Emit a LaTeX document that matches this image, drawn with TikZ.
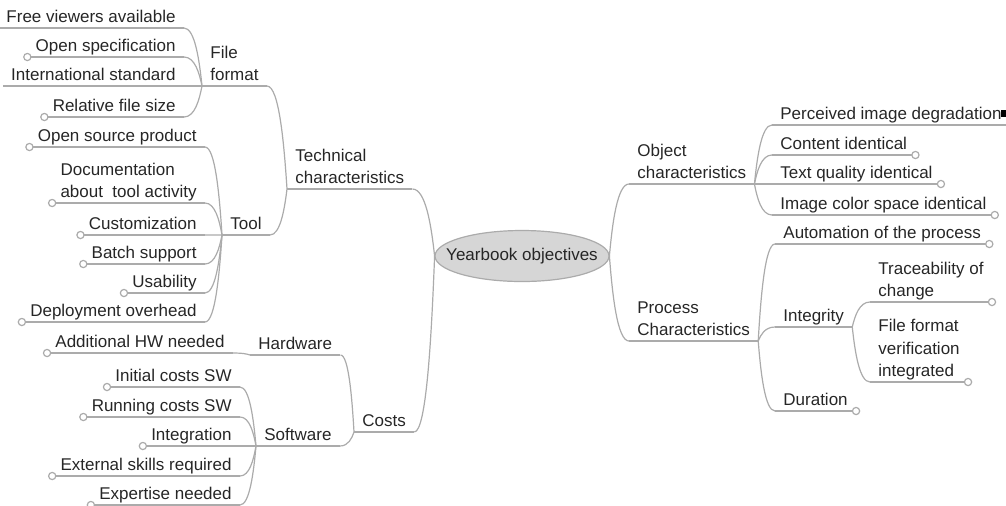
\documentclass[tikz,border=0pt]{standalone}
\usepackage{fontspec}
\setmainfont{Liberation Sans}
\usetikzlibrary{calc}
\tikzset{
  wire/.style={draw=black!33, line width=0.6pt},
  topic/.style={font=\fontsize{8.5}{11.2}\selectfont, text=black!85, align=left,
    inner xsep=4pt, inner ysep=2.5pt, text depth=0pt},
  topicse/.style={topic, anchor=south east},
  topicsw/.style={topic, anchor=south west},
  link/.style={to path={let \p1=(\tikztostart), \p2=(\tikztotarget) in
    .. controls ({0.4*\x1+0.6*\x2},\y1) and ({0.15*\x1+0.85*\x2},{0.45*\y1+0.55*\y2}) .. (\tikztotarget)}}
}
\begin{document}
\begin{tikzpicture}[x=0.5pt,y=-0.5pt]
\useasboundingbox (0,0) rectangle (1006,505);
\clip (0,0) rectangle (1006,505);
\filldraw[draw=black!33, fill=black!16, line width=0.6pt] (522,256) ellipse [x radius=87, y radius=25.5];
\node[minimum width=87pt, minimum height=25.5pt, inner sep=0pt,
  font=\fontsize{8.5}{10}\selectfont, text=black!85] (yo) at (522,256) {Yearbook objectives};
% left side
\node[topicsw] (tc) at (287,189) {Technical\\characteristics};
\node[topicsw] (ff) at (202,86) {File\\format};
\node[topicsw] (tool) at (222,235) {Tool};
\node[topicse] (fva) at (184,28) {Free viewers available};
\node[topicse] (osp) at (184,57) {Open specification};
\node[topicse] (ist) at (184,86) {International standard};
\node[topicse] (rfs) at (184,117) {Relative file size};
\node[topicse] (osp2) at (205,147) {Open source product};
\node[topicse] (doc) at (205,203) {Documentation\\about\ \ tool activity};
\node[topicse] (cust) at (205,235) {Customization};
\node[topicse] (bat) at (205,264) {Batch support};
\node[topicse] (usa) at (205,293) {Usability};
\node[topicse] (dep) at (205,322) {Deployment overhead};
\node[topicsw] (costs) at (354,432) {Costs};
\node[topicsw] (hw) at (250,355) {Hardware};
\node[topicsw] (sw) at (256,446) {Software};
\node[topicse] (ahw) at (233,353) {Additional HW needed};
\node[topicse] (ics) at (240,387) {Initial costs SW};
\node[topicse] (rcs) at (240,417) {Running costs SW};
\node[topicse] (integ) at (240,446) {Integration};
\node[topicse] (esr) at (240,476) {External skills required};
\node[topicse] (exn) at (240,505) {Expertise needed};
% right side
\node[topicsw] (oc) at (629,184) {Object\\characteristics};
\node[topicsw] (pc) at (629,341) {Process\\Characteristics};
\node[topicsw] (pid) at (772,125) {Perceived image degradation};
\node[topicsw] (ci) at (772,155) {Content identical};
\node[topicsw] (tqi) at (772,184) {Text quality identical};
\node[topicsw] (icsi) at (772,215) {Image color space identical};
\node[topicsw] (aut) at (775,244) {Automation of the process};
\node[topicsw] (inty) at (775,327) {Integrity};
\node[topicsw] (dur) at (775,411) {Duration};
\node[topicsw] (trc) at (870,302) {Traceability of\\change};
\node[topicsw] (ffv) at (870,382) {File format\\verification\\integrated};
\foreach \n in {tc,ff,tool,fva,osp,ist,rfs,osp2,doc,cust,bat,usa,dep,costs,hw,sw,ahw,ics,rcs,
  integ,esr,exn,oc,pc,pid,ci,tqi,icsi,aut,inty,dur,trc,ffv}
  \draw[wire] (\n.south west) -- (\n.south east);
\draw[wire] (pid.south east) -- ++(12,0);
\foreach \a/\b in {fva/ff,osp/ff,ist/ff,rfs/ff,osp2/tool,doc/tool,cust/tool,bat/tool,usa/tool,
  dep/tool,ff/tc,tool/tc,ahw/hw,ics/sw,rcs/sw,integ/sw,esr/sw,exn/sw,hw/costs,sw/costs}
  \draw[wire] (\a.south east) to[link] (\b.south west);
\draw[wire] (tc.south east) to[link] (yo.west);
\draw[wire] (costs.south east) to[link] (yo.west);
\draw[wire] (oc.south west) to[link] (yo.east);
\draw[wire] (pc.south west) to[link] (yo.east);
\foreach \a/\b in {pid/oc,ci/oc,tqi/oc,icsi/oc,aut/pc,inty/pc,dur/pc,trc/inty,ffv/inty}
  \draw[wire] (\a.south west) to[link] (\b.south east);
\foreach \n in {osp,rfs,osp2,doc,cust,bat,usa,dep,ahw,ics,rcs,integ,esr,exn}
  \draw[wire,fill=white] (\n.south west) circle (1.8pt);
\foreach \n in {ci,tqi,icsi,aut,trc,ffv,dur}
  \draw[wire,fill=white] (\n.south east) circle (1.8pt);
\fill[black] (1001,110) rectangle (1006,117);
\end{tikzpicture}
\end{document}
